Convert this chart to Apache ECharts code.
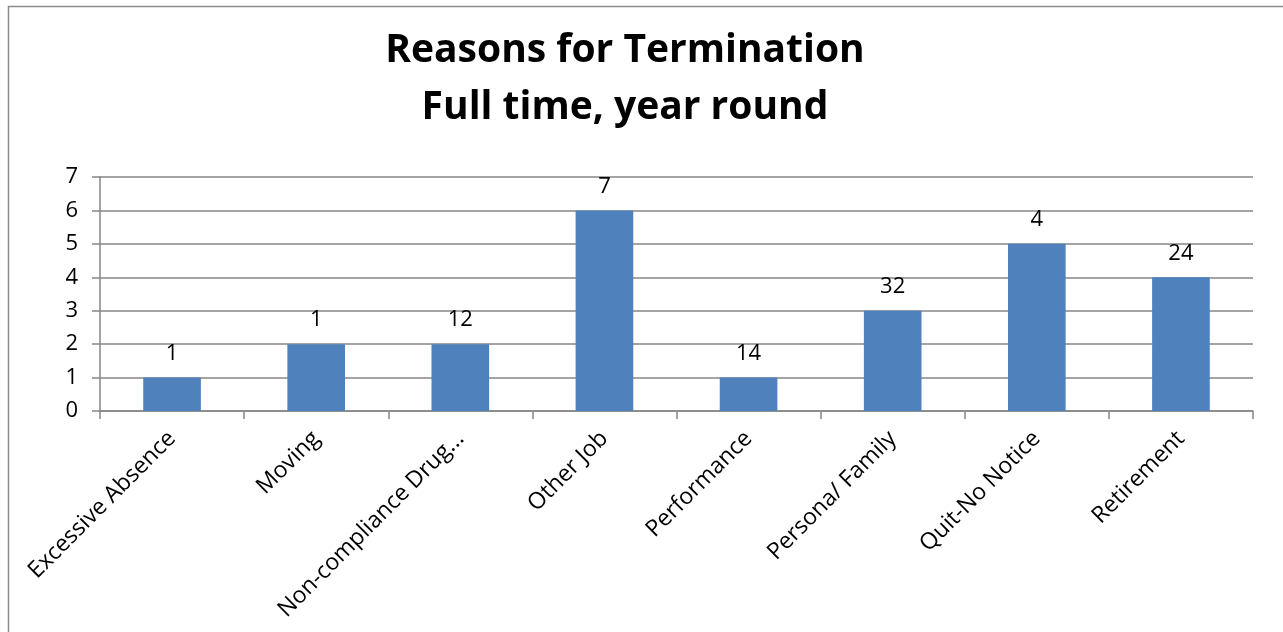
<!DOCTYPE html>
<html>
<head>
<meta charset="utf-8">
<script src="https://cdn.jsdelivr.net/npm/echarts@6/dist/echarts.min.js"></script>
<style>
  html, body { margin: 0; padding: 0; background: #fff; }
  #chart { width: 1283px; height: 632px; }
</style>
</head>
<body>
<div id="chart"></div>
<script>
// categories and values
const categories = ["Excessive Absence", "Moving", "Non-compliance Drug...", "Other Job",
  "Performance", "Persona/ Family", "Quit-No Notice", "Retirement"];
const barValues = [1, 2, 2, 6, 1, 3, 5, 4];
// labels printed above the bars (they differ from the bar heights)
const labelValues = [1, 1, 12, 7, 14, 32, 4, 24];
const yTicks = { min: 0, max: 7, interval: 1 };

const font = "'Open Sans', 'Liberation Sans', sans-serif";
const chart = echarts.init(document.getElementById("chart"));

const options = {
  animation: false,
  textStyle: { fontFamily: font },
  graphic: [
    {
      type: "rect",
      shape: { x: 8.5, y: 6.5, width: 1300, height: 640 },
      style: { fill: "none", stroke: "#8c8c8c", lineWidth: 1.5 }
    }
  ],
  title: {
    text: "Reasons for Termination\nFull time, year round",
    left: 620,
    top: 17,
    textAlign: "center",
    textStyle: {
      fontFamily: font,
      fontSize: 39,
      fontWeight: "bold",
      color: "#000",
      lineHeight: 57
    }
  },
  grid: {
    left: 100,
    right: 30,
    top: 177,
    height: 234
  },
  xAxis: {
    type: "category",
    data: categories,
    axisLine: { lineStyle: { color: "#868686", width: 1.5 } },
    axisTick: { show: true, length: 8, alignWithLabel: false, lineStyle: { color: "#868686", width: 1.5 } },
    axisLabel: {
      interval: 0,
      rotate: 45,
      margin: 24,
      fontSize: 23,
      color: "#000",
      fontFamily: font
    }
  },
  yAxis: {
    type: "value",
    min: yTicks.min,
    max: yTicks.max,
    interval: yTicks.interval,
    axisLine: { show: true, lineStyle: { color: "#868686", width: 1.5 } },
    axisTick: { show: true, length: 8, lineStyle: { color: "#868686", width: 1.5 } },
    splitLine: { lineStyle: { color: "#868686", width: 1.5 } },
    axisLabel: { fontSize: 22, color: "#000", margin: 22, fontFamily: font }
  },
  series: [
    {
      type: "bar",
      data: barValues,
      barWidth: "40%",
      itemStyle: { color: "#4f81bd" },
      label: {
        show: true,
        position: "top",
        distance: 13,
        fontSize: 22,
        color: "#000",
        fontFamily: font,
        formatter: function (p) {
          return labelValues[p.dataIndex];
        }
      }
    }
  ]
};

chart.setOption(options);
window.addEventListener("resize", () => {
  chart.resize();
});
</script>
</body>
</html>
